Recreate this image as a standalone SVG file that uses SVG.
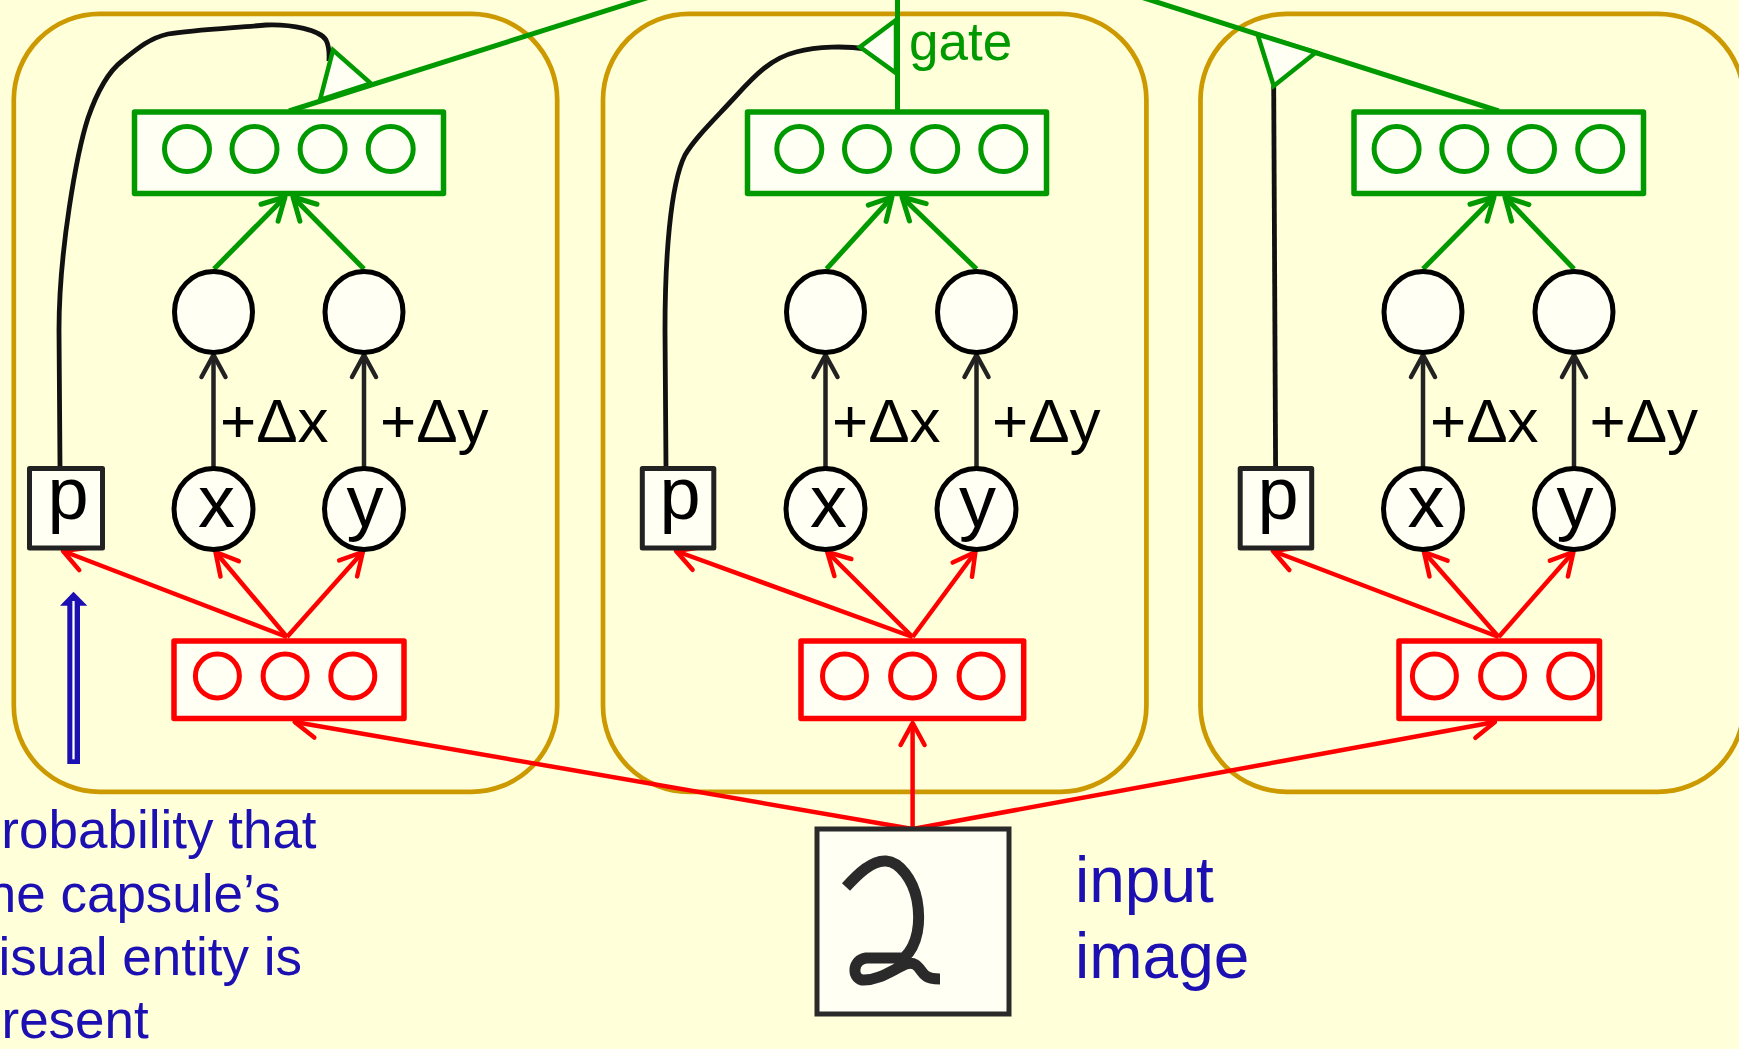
<svg xmlns="http://www.w3.org/2000/svg" width="1739" height="1049" viewBox="0 0 1739 1049">
<defs>
<style>
.frame{fill:none;stroke:#cc9900;stroke-width:4.7}
.gbox{fill:#fffff4;stroke:#009900;stroke-width:5.5;stroke-linejoin:round}
.gcirc{fill:none;stroke:#009900;stroke-width:5}
.rbox{fill:#fffff4;stroke:#ff0000;stroke-width:5.5;stroke-linejoin:round}
.rcirc{fill:none;stroke:#ff0000;stroke-width:5}
.node{fill:#fffff4;stroke:#000;stroke-width:5}
.pbox{fill:#fffff4;stroke:#222;stroke-width:5;stroke-linejoin:round}
.gate{fill:#fffff4;stroke:#009900;stroke-width:4.5;stroke-linejoin:miter}
.g{fill:none;stroke:#009900;stroke-width:5}
.ga{fill:none;stroke:#009900;stroke-width:5;marker-end:url(#ag)}
.ra{fill:none;stroke:#ff0000;stroke-width:4.5;marker-end:url(#ar)}
.ka{fill:none;stroke:#222;stroke-width:4.5;marker-end:url(#ak)}
.wire{fill:none;stroke:#111;stroke-width:4.8;stroke-linecap:butt}
.lbl{font-family:"Liberation Sans",Arial,sans-serif;fill:#000}
.big{font-size:74px;text-anchor:middle}
.delta{font-size:62px}
.blue{font-family:"Liberation Sans",Arial,sans-serif;fill:#1c10b2}
</style>
<marker id="ag" viewBox="-30 -16 34 32" markerWidth="34" markerHeight="32" refX="0" refY="0" orient="auto" markerUnits="userSpaceOnUse" overflow="visible">
<path d="M-22,-12 L0,0 L-22,12" fill="none" stroke="#009900" stroke-width="5" stroke-linecap="round" stroke-linejoin="round"/>
</marker>
<marker id="ar" viewBox="-30 -16 34 32" markerWidth="34" markerHeight="32" refX="0" refY="0" orient="auto" markerUnits="userSpaceOnUse" overflow="visible">
<path d="M-22,-12 L0,0 L-22,12" fill="none" stroke="#ff0000" stroke-width="4.5" stroke-linecap="round" stroke-linejoin="round"/>
</marker>
<marker id="ak" viewBox="-30 -16 34 32" markerWidth="34" markerHeight="32" refX="0" refY="0" orient="auto" markerUnits="userSpaceOnUse" overflow="visible">
<path d="M-22,-12 L0,0 L-22,12" fill="none" stroke="#222" stroke-width="4.5" stroke-linecap="round" stroke-linejoin="round"/>
</marker>
</defs>
<rect x="0" y="0" width="1739" height="1049" fill="#ffffd9"/>

<g id="capsule-1"><rect class="frame" x="13.8" y="13.8" width="543.4" height="778" rx="86"/></g>
<g id="capsule-2"><rect class="frame" x="603" y="13.8" width="543.4" height="778" rx="86"/></g>
<g id="capsule-3"><rect class="frame" x="1200.5" y="13.8" width="543.4" height="778" rx="86"/></g>

<g id="connectors">
<!-- gate output lines -->
<path class="g" d="M289,111 L896,-81"/>
<path class="g" d="M897.5,111 L897.5,-5"/>
<path class="g" d="M1498.7,111 L896,-81"/>
<!-- p wires -->
<path class="wire" d="M60,468 L59,330 C59,250 77,152 88,118 C97,92 108,72 122,61 C138,48 150,38 168,34 C192,30 232,28 266,25 C292,24 320,30 326,40 C330,48 329,55 329,61"/>
<path class="wire" d="M666,468 L665,330 C665,260 670,185 685,155 C695,138 712,122 736,96 C756,74 772,58 796,52 C818,46 846,46 867,49"/>
<path class="wire" d="M1275.6,468 L1273.7,86"/>
<!-- green arrows into output boxes -->
<path class="ga" d="M214,269 L285,197"/>
<path class="ga" d="M364,269 L293,197"/>
<path class="ga" d="M826.5,269 L892,197"/>
<path class="ga" d="M976.5,269 L902,197"/>
<path class="ga" d="M1423,269 L1494,197"/>
<path class="ga" d="M1574,269 L1505,197"/>
<!-- black delta arrows -->
<path class="ka" d="M213.5,467 L213.5,355"/>
<path class="ka" d="M364,467 L364,355"/>
<path class="ka" d="M825.5,467 L825.5,355"/>
<path class="ka" d="M976.5,467 L976.5,355"/>
<path class="ka" d="M1423,467 L1423,355"/>
<path class="ka" d="M1574,467 L1574,355"/>
<!-- red arrows from primary boxes -->
<path class="ra" d="M287,637 L63,551"/>
<path class="ra" d="M287,637 L215.5,552"/>
<path class="ra" d="M287,637 L362.8,552"/>
<path class="ra" d="M912.6,637 L676,551"/>
<path class="ra" d="M912.6,637 L827.3,552"/>
<path class="ra" d="M912.6,637 L975.4,552"/>
<path class="ra" d="M1498.7,637 L1273,551"/>
<path class="ra" d="M1498.7,637 L1424,552"/>
<path class="ra" d="M1498.7,637 L1573.4,552"/>
<!-- red arrows from input image -->
<path class="ra" d="M912.6,829 L294.7,722"/>
<path class="ra" d="M912.6,829 L912.6,723"/>
<path class="ra" d="M912.6,829 L1494.9,722"/>
</g>

<g id="gate-1"><polygon class="gate" points="333,50 320,100 371,83.5"/></g>
<g id="gate-2"><polygon class="gate" points="896,20 860,47 896,73"/></g>
<g id="gate-3"><polygon class="gate" points="1257.6,34.5 1273.7,86 1315.8,52.5"/></g>
<g id="gate-label"><text class="lbl" x="909" y="60" font-size="53" style="fill:#009900">gate</text></g>

<g id="capsule-1-output">
<rect class="gbox" x="134.5" y="112" width="309" height="81.5"/>
<circle class="gcirc" cx="187" cy="149" r="22.5"/><circle class="gcirc" cx="254.5" cy="149" r="22.5"/><circle class="gcirc" cx="322.6" cy="149" r="22.5"/><circle class="gcirc" cx="390.7" cy="149" r="22.5"/>
</g>
<g id="capsule-2-output">
<rect class="gbox" x="747.5" y="112" width="299" height="81.5"/>
<circle class="gcirc" cx="799.3" cy="149" r="22.5"/><circle class="gcirc" cx="867" cy="149" r="22.5"/><circle class="gcirc" cx="935.2" cy="149" r="22.5"/><circle class="gcirc" cx="1003.3" cy="149" r="22.5"/>
</g>
<g id="capsule-3-output">
<rect class="gbox" x="1354" y="112" width="289.5" height="81.5"/>
<circle class="gcirc" cx="1396.6" cy="149" r="22.5"/><circle class="gcirc" cx="1464.3" cy="149" r="22.5"/><circle class="gcirc" cx="1532" cy="149" r="22.5"/><circle class="gcirc" cx="1600.2" cy="149" r="22.5"/>
</g>

<g id="capsule-1-shifted-x"><ellipse class="node" cx="213.5" cy="312" rx="39" ry="40.5"/></g>
<g id="capsule-1-shifted-y"><ellipse class="node" cx="364" cy="312" rx="39" ry="40.5"/></g>
<g id="capsule-2-shifted-x"><ellipse class="node" cx="825.5" cy="312" rx="39" ry="40.5"/></g>
<g id="capsule-2-shifted-y"><ellipse class="node" cx="976.5" cy="312" rx="39" ry="40.5"/></g>
<g id="capsule-3-shifted-x"><ellipse class="node" cx="1423" cy="312" rx="39" ry="40.5"/></g>
<g id="capsule-3-shifted-y"><ellipse class="node" cx="1574" cy="312" rx="39" ry="40.5"/></g>

<g id="capsule-1-delta-labels"><text class="lbl delta" x="220" y="441.5">+Δx</text><text class="lbl delta" x="380" y="441.5">+Δy</text></g>
<g id="capsule-2-delta-labels"><text class="lbl delta" x="832" y="441.5">+Δx</text><text class="lbl delta" x="992" y="441.5">+Δy</text></g>
<g id="capsule-3-delta-labels"><text class="lbl delta" x="1430" y="441.5">+Δx</text><text class="lbl delta" x="1589.5" y="441.5">+Δy</text></g>

<g id="capsule-1-p"><rect class="pbox" x="29.5" y="468.5" width="73" height="79.5"/><text class="lbl big" x="68" y="519">p</text></g>
<g id="capsule-1-x"><ellipse class="node" cx="213.5" cy="509" rx="39.5" ry="40.5"/><text class="lbl big" x="216.5" y="527">x</text></g>
<g id="capsule-1-y"><ellipse class="node" cx="364" cy="509" rx="39.5" ry="40.5"/><text class="lbl big" x="365" y="527">y</text></g>
<g id="capsule-2-p"><rect class="pbox" x="642.3" y="468.5" width="71.5" height="79.5"/><text class="lbl big" x="680" y="519">p</text></g>
<g id="capsule-2-x"><ellipse class="node" cx="825.5" cy="509" rx="39.5" ry="40.5"/><text class="lbl big" x="828.5" y="527">x</text></g>
<g id="capsule-2-y"><ellipse class="node" cx="976.5" cy="509" rx="39.5" ry="40.5"/><text class="lbl big" x="977.5" y="527">y</text></g>
<g id="capsule-3-p"><rect class="pbox" x="1240.2" y="468.5" width="71.5" height="79.5"/><text class="lbl big" x="1278" y="519">p</text></g>
<g id="capsule-3-x"><ellipse class="node" cx="1423" cy="509" rx="39.5" ry="40.5"/><text class="lbl big" x="1426" y="527">x</text></g>
<g id="capsule-3-y"><ellipse class="node" cx="1574" cy="509" rx="39.5" ry="40.5"/><text class="lbl big" x="1575" y="527">y</text></g>

<g id="capsule-1-primary">
<rect class="rbox" x="174" y="641" width="230" height="77.5"/>
<circle class="rcirc" cx="217.4" cy="676" r="22"/><circle class="rcirc" cx="285.1" cy="676" r="22"/><circle class="rcirc" cx="352.8" cy="676" r="22"/>
</g>
<g id="capsule-2-primary">
<rect class="rbox" x="801" y="641" width="222.7" height="77.5"/>
<circle class="rcirc" cx="844.5" cy="676" r="22"/><circle class="rcirc" cx="912.6" cy="676" r="22"/><circle class="rcirc" cx="981.1" cy="676" r="22"/>
</g>
<g id="capsule-3-primary">
<rect class="rbox" x="1399" y="641" width="200.5" height="77.5"/>
<circle class="rcirc" cx="1434.4" cy="676" r="22"/><circle class="rcirc" cx="1502.6" cy="676" r="22"/><circle class="rcirc" cx="1570.7" cy="676" r="22"/>
</g>

<g id="probability-note">
<polygon points="73.5,591.7 60,605.7 67.3,605.7 67.3,764 80,764 80,605.7 87.3,605.7" fill="#1c10b2"/>
<line x1="73.5" y1="601" x2="73.5" y2="759.3" stroke="#fffff4" stroke-width="2.3"/>
<text class="blue" font-size="53"><tspan x="-34" y="848.3">Probability that</tspan><tspan x="-28" y="911.7">the capsule’s</tspan><tspan x="-28" y="975">visual entity is</tspan><tspan x="-28" y="1038.3">present</tspan></text>
</g>

<g id="input-image">
<rect x="817" y="829" width="192" height="185" fill="#fffff4" stroke="#2a2a2a" stroke-width="5"/>
<path d="M846,887 C858,874 872,860 886,861 C900,862 913,880 917,900 C921,922 918,945 904,958 L866,958 C852,960 852,978 862,980 C878,981 892,970 906,964 C918,960 920,972 926,976 C930,979 936,979 940,979" fill="none" stroke="#2a2a2a" stroke-width="11" stroke-linejoin="round"/>
</g>
<g id="input-label"><text class="blue" font-size="64"><tspan x="1075" y="901.7">input</tspan><tspan x="1075" y="978.3">image</tspan></text></g>
</svg>
